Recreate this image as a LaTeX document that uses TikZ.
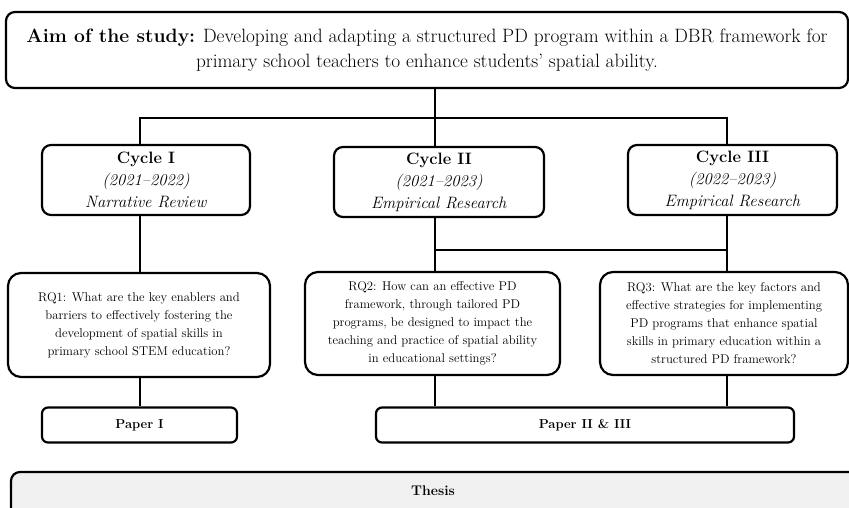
\documentclass[tikz,border=0pt]{standalone}
\begin{document}
\begin{tikzpicture}[x=1pt,y=-1pt,
  box/.style={draw=black,line width=2.2pt,rounded corners=9pt,fill=white,
    align=center,inner sep=2pt},
  wire/.style={line width=2pt},
  aimtxt/.style={font=\fontsize{19.3}{25}\selectfont},
  cyctxt/.style={font=\fontsize{16.5}{22}\selectfont},
  rqtxt/.style={font=\fontsize{12.7}{18}\selectfont},
  ptxt/.style={font=\fontsize{13}{15}\selectfont\bfseries}]
\useasboundingbox (0,0) rectangle (849,507);

% aim of the study
\node[box,aimtxt,minimum width=842,minimum height=76] (aim) at (427,50)
  {\textbf{Aim of the study:} Developing and adapting a structured PD program within a DBR framework for\\
   primary school teachers to enhance students' spatial ability.};

% cycles
\node[box,cyctxt,minimum width=208,minimum height=70] (c1) at (146,180)
  {\textbf{Cycle I}\\\textit{(2021--2022)}\\\textit{Narrative Review}};
\node[box,cyctxt,minimum width=210,minimum height=70] (c2) at (439,182)
  {\textbf{Cycle II}\\\textit{(2021--2023)}\\\textit{Empirical Research}};
\node[box,cyctxt,minimum width=209,minimum height=70] (c3) at (732.5,180)
  {\textbf{Cycle III}\\\textit{(2022--2023)}\\\textit{Empirical Research}};

% research questions
\node[box,rqtxt,rounded corners=13pt,minimum width=262,minimum height=104] (rq1) at (139,325)
  {RQ1: What are the key enablers and\\barriers to effectively fostering the\\
   development of spatial skills in\\primary school STEM education?};
\node[box,rqtxt,rounded corners=13pt,minimum width=255,minimum height=103] (rq2) at (432.5,323.5)
  {RQ2: How can an effective PD\\framework, through tailored PD\\programs, be designed to impact the\\
   teaching and practice of spatial ability\\in educational settings?};
\node[box,rqtxt,rounded corners=13pt,minimum width=248,minimum height=103] (rq3) at (724,323.5)
  {RQ3: What are the key factors and\\effective strategies for implementing\\PD programs that enhance spatial\\
   skills in primary education within a\\structured PD framework?};

% papers
\node[box,ptxt,rounded corners=6pt,minimum width=195,minimum height=35] (p1) at (139.5,425) {Paper I};
\node[box,ptxt,rounded corners=6pt,minimum width=418,minimum height=35] (p23) at (585,425) {Paper II \& III};

% thesis band, running off the right and bottom edges
\draw[line width=2.2pt,rounded corners=9pt,fill=black!6] (11,472) rectangle (870,530);
\node[ptxt,font=\fontsize{14}{15}\selectfont\bfseries] (thesis) at (433,491) {Thesis};

% connector columns
\coordinate (t1) at (140,118);
\coordinate (t2) at (435,118);
\coordinate (t3) at (727,118);
\coordinate (m2) at (435,250);
\coordinate (m3) at (727,250);

\draw[wire] (aim.south -| t2) -- (t2);
\draw[wire] (t1 |- c1.north) -- (t1) -- (t3) -- (t3 |- c3.north);
\draw[wire] (t2) -- (t2 |- c2.north);
\draw[wire] (t1 |- c1.south) -- (t1 |- rq1.north);
\draw[wire] (t2 |- c2.south) -- (t2 |- rq2.north);
\draw[wire] (t3 |- c3.south) -- (t3 |- rq3.north);
\draw[wire] (m2) -- (m3);
\draw[wire] (t1 |- rq1.south) -- (t1 |- p1.north);
\draw[wire] (t2 |- rq2.south) -- (t2 |- p23.north);
\draw[wire] (t3 |- rq3.south) -- (t3 |- p23.north);
\end{tikzpicture}
\end{document}
